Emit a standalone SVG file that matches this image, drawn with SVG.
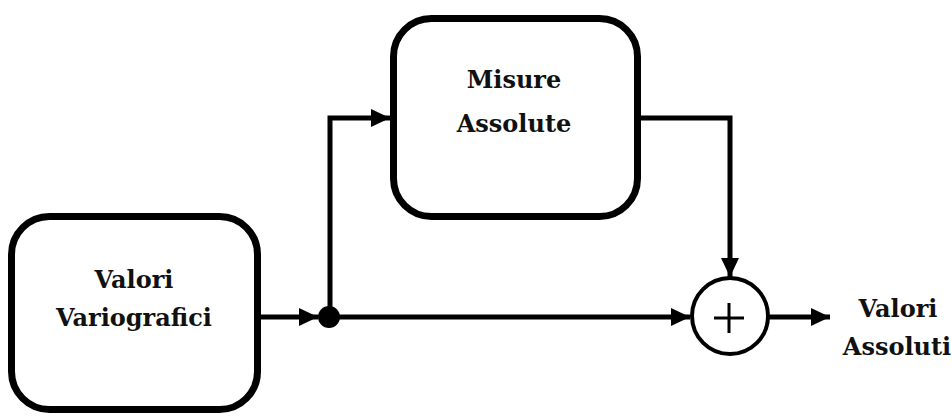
<svg xmlns="http://www.w3.org/2000/svg" width="952" height="416" viewBox="0 0 952 416">
<style>
.box{fill:#fff;stroke:#000;stroke-width:7}
.lbl{font-family:"DejaVu Serif","Liberation Serif",serif;font-weight:bold;font-size:24px;fill:#111;text-anchor:middle}
.wire{fill:none;stroke:#000;stroke-width:5;stroke-linejoin:miter}
</style>
<defs>
<marker id="arr" markerUnits="userSpaceOnUse" markerWidth="20" markerHeight="18" refX="19" refY="9" orient="auto">
<path d="M0,0 L19,9 L0,18 Z" fill="#000"/>
</marker>
</defs>
<rect width="952" height="416" fill="#fff"/>
<g id="connectors">
<line class="wire" x1="261" y1="317" x2="318" y2="317" marker-end="url(#arr)"/>
<polyline class="wire" points="330,317 330,118 390,118" marker-end="url(#arr)"/>
<line class="wire" x1="330" y1="317" x2="690" y2="317" marker-end="url(#arr)"/>
<polyline class="wire" points="641,118 730,118 730,277" marker-end="url(#arr)"/>
<line class="wire" x1="768" y1="317" x2="830" y2="317" marker-end="url(#arr)"/>
<circle cx="329" cy="317" r="11" fill="#000"/>
</g>
<g id="valori-variografici">
<rect class="box" x="11.5" y="216.5" width="246" height="193" rx="38"/>
<text class="lbl" x="134" y="288">Valori</text>
<text class="lbl" x="134" y="326">Variografici</text>
</g>
<g id="misure-assolute">
<rect class="box" x="393.5" y="18.5" width="244" height="198" rx="38"/>
<text class="lbl" x="514" y="88">Misure</text>
<text class="lbl" x="514" y="132">Assolute</text>
</g>
<g id="sum">
<circle cx="730" cy="316" r="38" fill="#fff" stroke="#000" stroke-width="4"/>
<path d="M714,318 H744 M729,303 V333" stroke="#000" stroke-width="3" fill="none"/>
</g>
<g id="valori-assoluti">
<text class="lbl" x="898" y="317">Valori</text>
<text class="lbl" x="897" y="355">Assoluti</text>
</g>
</svg>
